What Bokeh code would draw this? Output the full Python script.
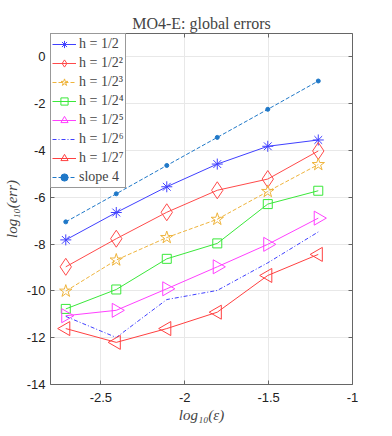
import math
from bokeh.plotting import figure
from bokeh.models import LinearAxis, FixedTicker, Range1d, Legend
from bokeh.embed import file_html
from bokeh.resources import INLINE

# data: x = log10(epsilon), epsilon = 2^-9 ... 2^-4
log_eps = [-2.709, -2.408, -2.107, -1.806, -1.505, -1.204]
err_h1 = [-7.82, -6.65, -5.55, -4.58, -3.82, -3.55]
err_h2 = [-8.97, -7.77, -6.64, -5.70, -5.22, -4.02]
err_h3 = [-10.01, -8.68, -7.72, -6.94, -5.75, -4.60]
err_h4 = [-10.77, -9.94, -8.63, -7.97, -6.29, -5.72]
err_h5 = [-11.06, -10.83, -9.91, -8.97, -8.01, -6.89]
err_h6 = [-11.09, -11.99, -10.37, -9.98, -8.80, -7.48]
err_h7 = [-11.61, -12.20, -11.61, -10.91, -9.34, -8.44]
slope4 = [-7.05, -5.85, -4.64, -3.44, -2.24, -1.03]

labels = ["h = 1/2", "h = 1/2²", "h = 1/2³", "h = 1/2⁴", "h = 1/2⁵", "h = 1/2⁶", "h = 1/2⁷", "slope 4"]
x_ticks = [-2.5, -2.0, -1.5, -1.0]
y_ticks = [-14, -12, -10, -8, -6, -4, -2, 0]

SERIF = "Liberation Serif"

p = figure(frame_width=302, frame_height=351, output_backend="svg", toolbar_location=None,
           x_range=Range1d(-2.8, -1.0), y_range=Range1d(-14, 1),
           min_border_left=44, min_border_right=22, min_border_top=33, min_border_bottom=44,
           title="MO4-E: global errors")
p.title.align = "center"
p.title.text_font = SERIF
p.title.text_font_size = "16px"
p.title.text_font_style = "normal"
p.title.standoff = 4
p.title.offset = 0

axis_col = "#666666"
for ax in (p.xaxis[0], p.yaxis[0]):
    ax.major_tick_in = 4
    ax.major_tick_out = 0
    ax.minor_tick_line_color = None
    ax.axis_line_color = axis_col
    ax.major_tick_line_color = axis_col
    ax.major_label_text_font = "Liberation Sans"
    ax.major_label_text_font_size = "13px"
    ax.major_label_text_color = "#222222"
    ax.major_label_standoff = 5
    ax.axis_label_text_font = SERIF
    ax.axis_label_text_font_style = "italic"
    ax.axis_label_text_font_size = "15px"
    ax.axis_label_standoff = 4
p.xaxis[0].major_label_standoff = 8
p.xaxis[0].axis_label_standoff = 2

p.xaxis[0].ticker = FixedTicker(ticks=x_ticks)
p.yaxis[0].ticker = FixedTicker(ticks=y_ticks)
p.xaxis[0].major_label_overrides = {t: ("%g" % t) for t in x_ticks}
p.yaxis[0].major_label_overrides = {t: ("%g" % t) for t in y_ticks}
p.xaxis[0].axis_label = "log₁₀(ε)"
p.yaxis[0].axis_label = "log₁₀(err)"

for loc, tick in (("right", y_ticks), ("above", x_ticks)):
    ax = LinearAxis(ticker=FixedTicker(ticks=tick),
                    major_label_overrides={t: "" for t in tick},
                    major_tick_in=4, major_tick_out=0, minor_tick_line_color=None,
                    axis_line_color=axis_col, major_tick_line_color=axis_col,
                    major_label_standoff=0)
    p.add_layout(ax, loc)

p.xgrid.ticker = FixedTicker(ticks=x_ticks)
p.ygrid.ticker = FixedTicker(ticks=y_ticks)
p.grid.grid_line_color = "#e8e8e8"
p.outline_line_color = None
p.background_fill_color = "white"

items = []
def series(y, color, marker, label, dash="solid", size=12, angle=0.0, lw=1.0):
    rs = []
    r = p.line(log_eps, y, line_color=color, line_width=lw, line_dash=dash)
    rs.append(r)
    if marker is not None:
        s = p.scatter(log_eps, y, marker=marker, size=size, line_color=color,
                      fill_color=None if marker != "circle" else color, angle=angle,
                      line_width=1)
        rs.append(s)
    items.append((label, rs))

series(err_h1, "#4040ff", "asterisk", labels[0], size=11)
series(err_h2, "#ff4a4a", "diamond", labels[1], size=17)
series(err_h3, "#efb43c", "star", labels[2], dash="4 2", size=13)
series(err_h4, "#3ae83a", "square", labels[3], size=9)
series(err_h5, "#ff40ff", "triangle", labels[4], size=14, angle=-math.pi / 2)
series(err_h6, "#4040ff", None, labels[5], dash="4 2 1 2")
series(err_h7, "#ff4040", "triangle", labels[6], size=14, angle=math.pi / 2)
series(slope4, "#1f78c8", "circle", labels[7], dash="4 2", size=4)

legend = Legend(items=items, location="top_left", label_text_font=SERIF,
                label_text_font_size="14px", glyph_width=24, glyph_height=18,
                label_height=18, spacing=1, padding=1, margin=0,
                border_line_color="#333333", border_line_width=1,
                background_fill_alpha=1.0, label_standoff=3)
p.add_layout(legend)

open("out.html", "w").write(file_html(p, INLINE))
